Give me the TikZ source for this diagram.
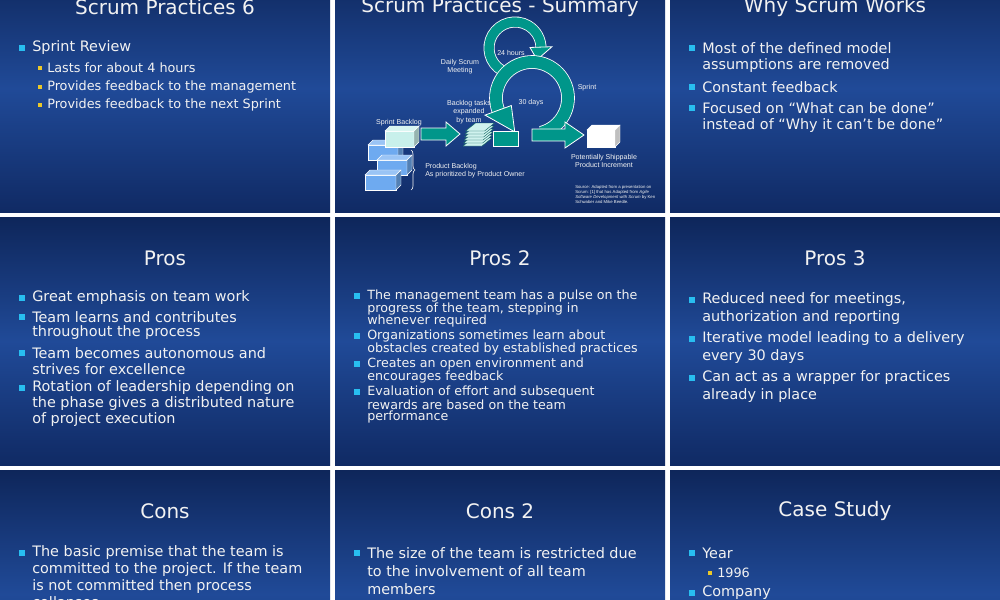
\documentclass[tikz,border=0pt]{standalone}
\usepackage{fontspec}
\setmainfont{DejaVu Sans}
\newfontfamily\arialf{Liberation Sans}
\usetikzlibrary{decorations.pathreplacing,calc}
\definecolor{bgtop}{RGB}{14,38,90}
\definecolor{bgmid}{RGB}{32,74,152}
\definecolor{bgbot}{RGB}{16,42,100}
\definecolor{teal}{RGB}{0,150,138}
\definecolor{bcyan}{RGB}{40,190,240}
\definecolor{byel}{RGB}{235,200,40}
\definecolor{txtc}{RGB}{242,242,242}
\definecolor{lcyan}{RGB}{200,240,235}
\definecolor{bbox}{RGB}{110,170,240}
\tikzset{
 ttl/.style={text=txtc,font=\fontsize{15}{17}\selectfont,inner sep=0pt},
 mtx/.style={text=txtc,font=\fontsize{10.8}{12}\selectfont,inner sep=0pt,anchor=west},
 stx/.style={text=txtc,font=\fontsize{9.6}{11}\selectfont,inner sep=0pt,anchor=west},
 ptx/.style={text=txtc,font=\fontsize{9.5}{10}\selectfont,inner sep=0pt,anchor=west},
 dtx/.style={text=txtc,font=\arialf\fontsize{5.3}{6.2}\selectfont,inner sep=0pt,align=center},
 ring/.style={draw=white,double=teal,line width=0.6pt},
 tealfill/.style={fill=teal,draw=white,line width=0.6pt},
}
\newcommand{\mb}[2]{\fill[bcyan] (#1-2.7,#2-2.7) rectangle (#1+2.7,#2+2.7);}
\newcommand{\sbl}[2]{\fill[byel] (#1-2.3,#2-2.3) rectangle (#1+2.3,#2+2.3);}
\newcommand{\cubeb}[5]{%
 \fill[#5,draw=white,line width=0.3pt] (#1,#2) rectangle (#1+#3,#2+#4);
 \fill[#5!70!white,draw=white,line width=0.3pt] (#1,#2) -- (#1+5,#2-5) -- (#1+#3+5,#2-5) -- (#1+#3,#2) -- cycle;
 \fill[#5!75!black,draw=white,line width=0.3pt] (#1+#3,#2) -- (#1+#3+5,#2-5) -- (#1+#3+5,#2+#4-5) -- (#1+#3,#2+#4) -- cycle;}
\begin{document}
\begin{tikzpicture}[x=0.75pt,y=-0.75pt]
\useasboundingbox (0,0) rectangle (1000,600);
\fill[white] (0,0) rectangle (1000,600);
\begin{scope}
\clip (0,0) rectangle (1000,600);
\foreach \xx in {0,335,670}{
 \foreach \yy in {-36,217,470}{
  \shade[top color=bgtop,bottom color=bgbot,middle color=bgmid] (\xx,\yy) rectangle (\xx+330,\yy+248);
 }}
% ---------- panel 1
\node[ttl] (t1) at (165,7) {Scrum Practices 6};
\mb{22}{48}\node[mtx] (a1) at (32,48) {Sprint Review};
\sbl{40}{68}\node[stx] (a2) at (47,68) {Lasts for about 4 hours};
\sbl{40}{87}\node[stx] (a3) at (47,87) {Provides feedback to the management};
\sbl{40}{105}\node[stx] (a4) at (47,105) {Provides feedback to the next Sprint};
% ---------- panel 3
\node[ttl] (t3) at (835,7) {Why Scrum Works};
\mb{692}{48}\node[mtx] (c1) at (702,48) {Most of the defined model};
\node[mtx] (c2) at (702,66) {assumptions are removed};
\mb{692}{87}\node[mtx] (c3) at (702,87) {Constant feedback};
\mb{692}{108}\node[mtx] (c4) at (702,108) {Focused on “What can be done”};
\node[mtx] (c5) at (702,126) {instead of “Why it can’t be done”};
% ---------- Pros
\node[ttl] (t4) at (165,258) {Pros};
\mb{22}{298}\node[mtx] (d1) at (32,298) {Great emphasis on team work};
\mb{22}{317}\node[mtx] (d2) at (32,317) {Team learns and contributes};
\node[mtx] (d3) at (32,333) {throughout the process};
\mb{22}{353}\node[mtx] (d4) at (32,353) {Team becomes autonomous and};
\node[mtx] (d5) at (32,369) {strives for excellence};
\mb{22}{388}\node[mtx] (d6) at (32,388) {Rotation of leadership depending on};
\node[mtx] (d7) at (32,404) {the phase gives a distributed nature};
\node[mtx] (d8) at (32,420) {of project execution};
% ---------- Pros 2
\node[ttl] (t5) at (500,258) {Pros 2};
\mb{357}{296}\node[ptx] (e1) at (367,296) {The management team has a pulse on the};
\node[ptx] (e2) at (367,309) {progress of the team, stepping in};
\node[ptx] (e3) at (367,321) {whenever required};
\mb{357}{336}\node[ptx] (e4) at (367,336) {Organizations sometimes learn about};
\node[ptx] (e5) at (367,349) {obstacles created by established practices};
\mb{357}{364}\node[ptx] (e6) at (367,364) {Creates an open environment and};
\node[ptx] (e7) at (367,377) {encourages feedback};
\mb{357}{392}\node[ptx] (e8) at (367,392) {Evaluation of effort and subsequent};
\node[ptx] (e9) at (367,405) {rewards are based on the team};
\node[ptx] (e10) at (367,417) {performance};
% ---------- Pros 3
\node[ttl] (t6) at (835,258) {Pros 3};
\mb{692}{300}\node[mtx] (f1) at (702,300) {Reduced need for meetings,};
\node[mtx] (f2) at (702,318) {authorization and reporting};
\mb{692}{339}\node[mtx] (f3) at (702,339) {Iterative model leading to a delivery};
\node[mtx] (f4) at (702,357) {every 30 days};
\mb{692}{378}\node[mtx] (f5) at (702,378) {Can act as a wrapper for practices};
\node[mtx] (f6) at (702,396) {already in place};
% ---------- Cons
\node[ttl] (t7) at (165,511) {Cons};
\mb{22}{553}\node[mtx] (g1) at (32,553) {The basic premise that the team is};
\node[mtx] (g2) at (32,570) {committed to the project. If the team};
\node[mtx] (g3) at (32,587) {is not committed then process};
\node[mtx] (g4) at (32,604) {collapses};
\node[ttl] (t8) at (500,511) {Cons 2};
\mb{357}{553}\node[mtx] (h1) at (367,553) {The size of the team is restricted due};
\node[mtx] (h2) at (367,571) {to the involvement of all team};
\node[mtx] (h3) at (367,589) {members};
\node[ttl] (t9) at (835,511) {Case Study};
\mb{692}{553}\node[mtx] (i1) at (702,553) {Year};
\sbl{710}{573}\node[stx] (i2) at (717,573) {1996};
\mb{692}{593}\node[mtx] (i3) at (702,593) {Company};
% ---------- Summary panel
\node[ttl] (t2) at (500,7) {Scrum Practices - Summary};
\coordinate (sc) at (515,48);
\draw[ring,line width=0.6pt,double distance=7pt] ($(sc)+(120:26)$) arc (120:362:26);
\fill[tealfill] ($(sc)+(358:15)$) -- ($(sc)+(358:37)$) -- ($(sc)+(28:25)$) -- cycle;
\coordinate (bc) at (532,98);
\draw[ring,double distance=9pt] ($(bc)+(75:36)$) arc (75:-205:36);
\fill[tealfill] ($(bc)+(-200:22)$) -- ($(bc)+(-200:50)$) -- ($(bc)+(-243:38)$) -- cycle;
\fill[tealfill] (493,131) rectangle (518,146);
\fill[tealfill] (421,128) -- (446,128) -- (446,122) -- (460,134) -- (446,146) -- (446,140) -- (421,140) -- cycle;
\fill[tealfill] (532,129) -- (565,129) -- (565,122) -- (584,135) -- (565,148) -- (565,141) -- (532,141) -- cycle;
\cubeb{368}{145}{30}{15}{bbox}
\cubeb{377}{160}{30}{15}{bbox}
\cubeb{365}{175}{31}{15}{bbox}
\cubeb{385}{131}{29}{16}{lcyan}
\cubeb{587}{130}{28}{17}{white}
\foreach \k in {0,...,5}{
 \fill[lcyan!85!white,draw=teal!60!black,line width=0.3pt] (463+\k*0.5,146-\k*3) -- (482+\k*0.5,146-\k*3) -- (492+\k*0.5,138-\k*3) -- (473+\k*0.5,138-\k*3) -- cycle;}
\draw[decorate,decoration={brace,amplitude=3pt},draw=txtc,line width=0.5pt] (411,150) -- (411,190);
\node[dtx] (l1) at (511,53) {24 hours};
\node[dtx] (l2) at (460,67) {Daily Scrum\\Meeting};
\node[dtx] (l3) at (587,88) {Sprint};
\node[dtx] (l4) at (531,103) {30 days};
\node[dtx] (l5) at (469,112) {Backlog tasks\\expanded\\by team};
\node[dtx] (l6) at (399,123) {Sprint Backlog};
\node[dtx,align=left,anchor=west] (l7) at (425,171) {Product Backlog\\As prioritized by Product Owner};
\node[dtx] (l8) at (604,161) {Potentially Shippable\\Product Increment};
\node[text=txtc,font=\arialf\fontsize{3.2}{3.8}\selectfont,inner sep=0pt,align=left,anchor=north west] (l9) at (575,185) {Source: Adapted from a presentation on\\Scrum: [1] that has Adapted from \textit{Agile}\\\textit{Software Development with Scrum} by Ken\\Schwaber and Mike Beedle.};
\end{scope}
\end{tikzpicture}
\end{document}
